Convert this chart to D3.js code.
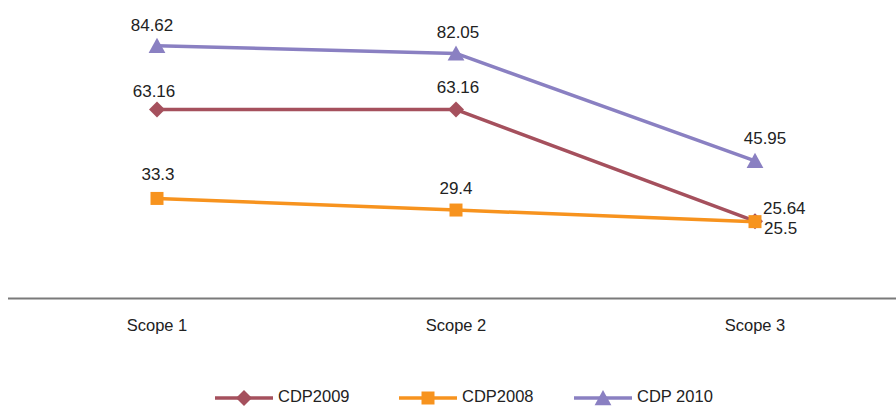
<!DOCTYPE html>
<html>
<head>
<meta charset="utf-8">
<script src="https://cdn.jsdelivr.net/npm/d3@7/dist/d3.min.js"></script>
<style>
  html, body { margin: 0; padding: 0; background: #fff; }
  svg { display: block; font-family: "Liberation Sans", Arial, Helvetica, sans-serif; }
</style>
</head>
<body>
<svg id="chart" width="896" height="406"></svg>
<script>
// Categories along the x axis
const scopes = ["Scope 1", "Scope 2", "Scope 3"];

// Series values (percent), one array per survey year
const cdp2009 = [63.16, 63.16, 25.64];
const cdp2008 = [33.3, 29.4, 25.5];
const cdp2010 = [84.62, 82.05, 45.95];

// Legend / series names
const seriesNames = ["CDP2009", "CDP2008", "CDP 2010"];

const W = 896, H = 406;
const svg = d3.select("#chart");

const x = d3.scaleBand().domain(scopes).range([7.5, 904.5]);
const cx = d => x(d) + x.bandwidth() / 2;
const y = d3.scaleLinear().domain([0, 100]).range([297.5, 0]);

// marker shapes
const diamond = s => `M0,${-s}L${s},0L0,${s}L${-s},0Z`;
const square = s => `M${-s},${-s}H${s}V${s}H${-s}Z`;
const triangle = s => `M0,${-s}L${s * 1.05},${s * 0.9}L${-s * 1.05},${s * 0.9}Z`;

const series = [
  { name: seriesNames[0], values: cdp2009, color: "#a5505d", marker: diamond(8),
    // label placement per point: [dx, dy, anchor]
    labels: [[-3, -13, "middle"], [2, -17, "middle"], [8, -7, "start"]] },
  { name: seriesNames[1], values: cdp2008, color: "#f7931e", marker: square(6.5),
    labels: [[1, -18, "middle"], [0, -16, "middle"], [9, 12.5, "start"]] },
  { name: seriesNames[2], values: cdp2010, color: "#8a80c2", marker: triangle(8),
    labels: [[-5, -15, "middle"], [2, -15, "middle"], [10, -17, "middle"]] }
];

// baseline axis
svg.append("line")
  .attr("x1", 8).attr("x2", W)
  .attr("y1", y(0) + 1).attr("y2", y(0) + 1)
  .attr("stroke", "#7a7a7a").attr("stroke-width", 2);

// category labels
svg.selectAll("text.cat").data(scopes).join("text")
  .attr("class", "cat")
  .attr("x", d => cx(d)).attr("y", 331)
  .attr("text-anchor", "middle")
  .attr("font-size", 16.5).attr("fill", "#222")
  .text(d => d);

const line = d3.line().x((d, i) => cx(scopes[i])).y(d => y(d));

series.forEach(s => {
  const g = svg.append("g");
  g.append("path").datum(s.values)
    .attr("d", line)
    .attr("fill", "none").attr("stroke", s.color).attr("stroke-width", 3.5)
    .attr("stroke-linejoin", "round");
  g.selectAll("path.mk").data(s.values).join("path")
    .attr("class", "mk")
    .attr("d", s.marker)
    .attr("transform", (d, i) => `translate(${cx(scopes[i])},${y(d)})`)
    .attr("fill", s.color);
});

// value labels drawn above the markers
series.forEach(s => {
  svg.append("g").selectAll("text").data(s.values).join("text")
    .attr("x", (d, i) => cx(scopes[i]) + s.labels[i][0])
    .attr("y", (d, i) => y(d) + s.labels[i][1])
    .attr("text-anchor", (d, i) => s.labels[i][2])
    .attr("font-size", 17).attr("fill", "#222")
    .text(d => d);
});

// legend
const legendX = [215, 399, 574];
const lg = svg.append("g");
series.forEach((s, i) => {
  const g = lg.append("g").attr("transform", `translate(${legendX[i]},398)`);
  g.append("line").attr("x1", 0).attr("x2", 58).attr("y1", 0).attr("y2", 0)
    .attr("stroke", s.color).attr("stroke-width", 3.5);
  g.append("path").attr("d", s.marker).attr("transform", "translate(29,0)").attr("fill", s.color);
  g.append("text").attr("x", 63).attr("y", 3.5)
    .attr("font-size", 16.5).attr("fill", "#222")
    .text(s.name);
});
</script>
</body>
</html>
